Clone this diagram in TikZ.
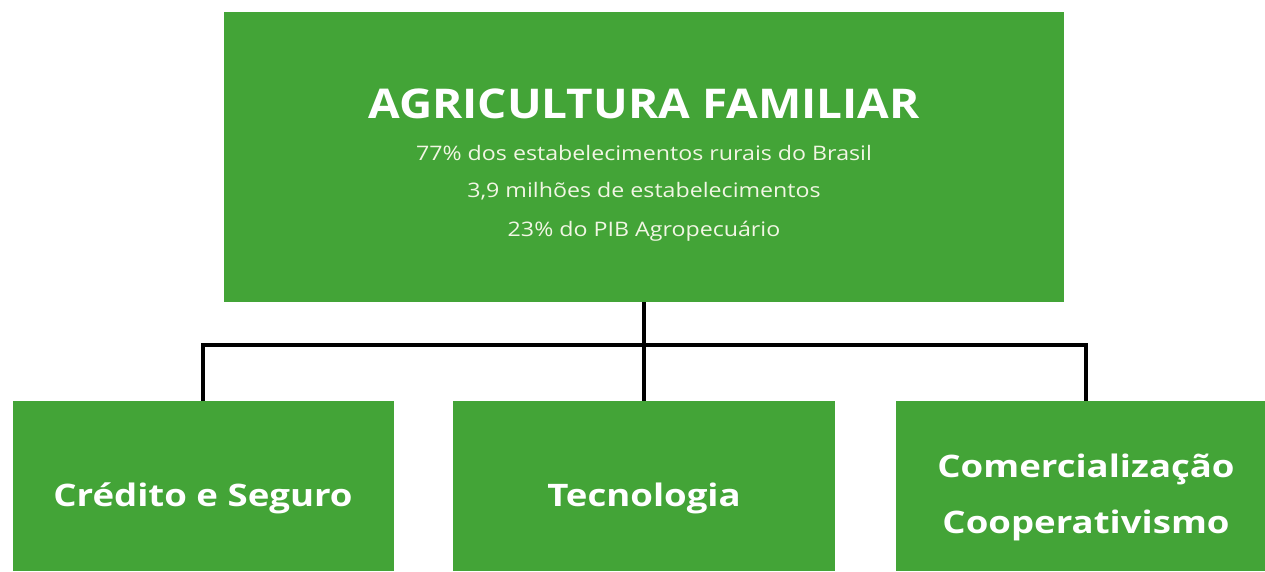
\documentclass[tikz,border=0pt]{standalone}
\usepackage{fontspec}
\setmainfont{Open Sans}
\newfontfamily\titlefont[FakeStretch=1.12]{Open Sans}
\newfontfamily\subfont[FakeStretch=1.16]{Open Sans}
\newfontfamily\leaffont[FakeStretch=1.18]{Open Sans}
\usetikzlibrary{positioning}
\definecolor{agrigreen}{RGB}{67,164,55}
\definecolor{cream}{RGB}{242,246,228}
\tikzset{
  greenbox/.style={fill=agrigreen, draw=none, inner sep=0pt},
  titletext/.style={text=white, font=\titlefont\fontsize{41}{44}\selectfont\bfseries, anchor=base},
  subtext/.style={text=cream, font=\subfont\fontsize{20}{22}\selectfont, anchor=base},
  leaftext/.style={text=white, font=\leaffont\fontsize{31}{33}\selectfont\bfseries, anchor=base},
  branch/.style={draw=black, line width=4pt}
}
\begin{document}
\begin{tikzpicture}[x=1pt,y=-1pt]
  \useasboundingbox (0,0) rectangle (1265,571);

  % Top box
  \node[greenbox, minimum width=840pt, minimum height=290pt] (agri) at (644,157) {};
  \node[titletext] (agrititle) at (644,118) {AGRICULTURA FAMILIAR};
  \node[subtext] (linea) at (644,160) {77\% dos estabelecimentos rurais do Brasil};
  \node[subtext] (lineb) at (644,197) {3,9 milhões de estabelecimentos};
  \node[subtext] (linec) at (644,236) {23\% do PIB Agropecuário};

  % Bottom boxes
  \node[greenbox, minimum width=381pt, minimum height=170pt] (credito) at (203,486) {};
  \node[greenbox, minimum width=382pt, minimum height=170pt] (tecno) at (644,486) {};
  \node[greenbox, minimum width=369pt, minimum height=170pt] (comerc) at (1080.5,486) {};

  \node[leaftext] (creditotxt) at (203,506) {Crédito e Seguro};
  \node[leaftext] (tecnotxt) at (644,506) {Tecnologia};
  \node[leaftext] (comerctxta) at (1086,477) {Comercialização};
  \node[leaftext] (comerctxtb) at (1086,533) {Cooperativismo};

  % Connectors
  \coordinate (hub) at (644,345);
  \draw[branch] (agri.south) -- (hub);
  \draw[branch] (credito.north) |- (hub);
  \draw[branch] (hub) -| (comerctxta |- comerc.north);
  \draw[branch] (hub) -- (tecno.north);

\end{tikzpicture}
\end{document}
